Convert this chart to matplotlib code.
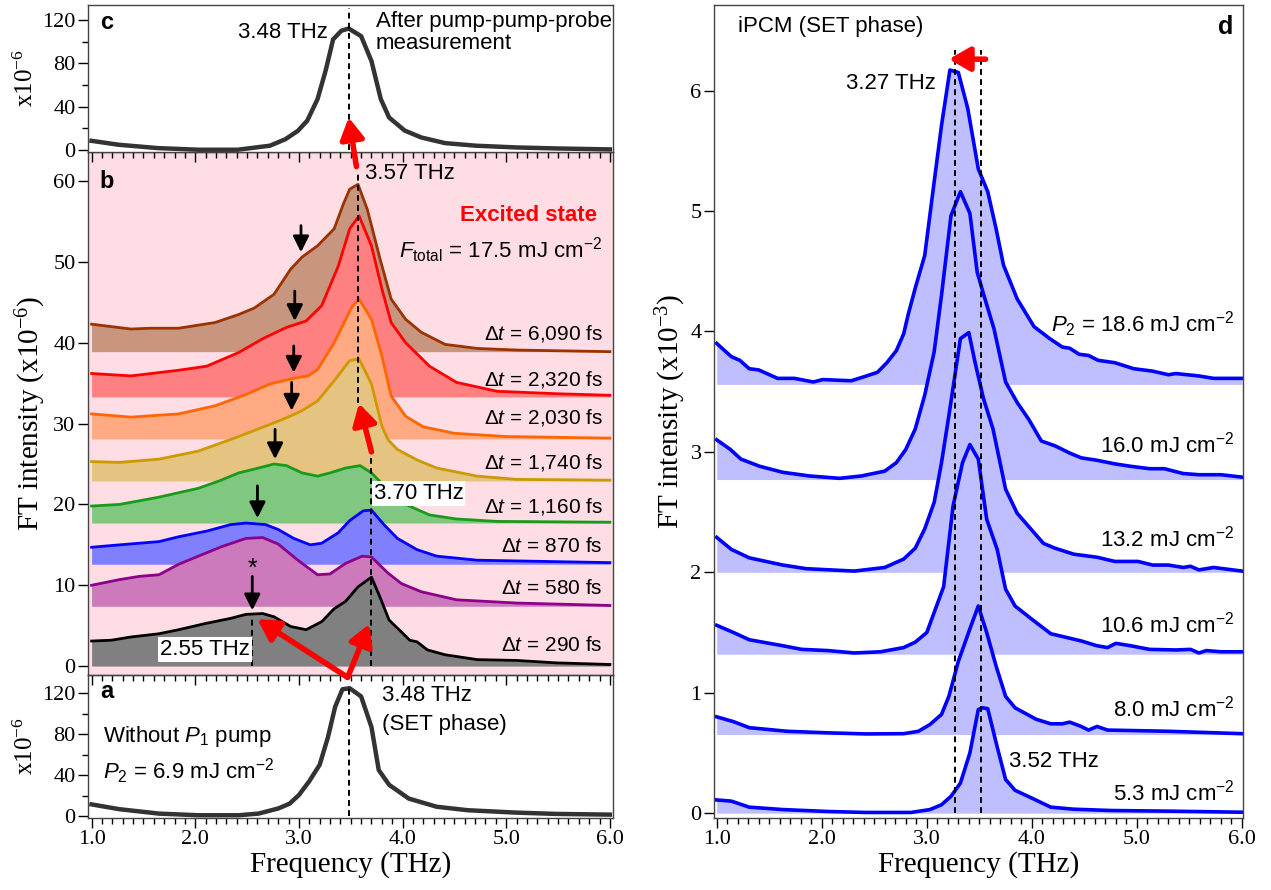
import numpy as np
import matplotlib
matplotlib.use("Agg")
import matplotlib.pyplot as plt
from matplotlib.ticker import MultipleLocator, FormatStrFormatter

SERIF = 'Liberation Serif'
SANS = 'Liberation Sans'
plt.rcParams['font.family'] = [SERIF, 'DejaVu Serif']
plt.rcParams['mathtext.fontset'] = 'custom'
plt.rcParams['mathtext.rm'] = SANS
plt.rcParams['mathtext.it'] = SANS + ':italic'
plt.rcParams['mathtext.bf'] = SANS + ':bold'

# ---- panel c : after pump-pump-probe (x1e-6)
c_freq = [1.0, 1.26, 1.64, 2.03, 2.41, 2.72, 2.87, 2.99, 3.08, 3.18, 3.26, 3.33, 3.41, 3.48,
          3.60, 3.70, 3.79, 3.87, 4.02, 4.18, 4.41, 4.71, 5.1, 5.48, 6.0]
c_amp = [8.5, 4.9, 1.8, 0.3, 0.3, 4.0, 10.0, 17.7, 27.0, 47.0, 74.0, 102.0, 110.0, 112.0,
         105.0, 82.0, 47.0, 30.0, 18.0, 11.6, 6.4, 4.0, 2.4, 1.5, 0.6]

# ---- panel a : without P1 pump (x1e-6)
a_freq = [1.0, 1.27, 1.65, 2.03, 2.42, 2.61, 2.80, 2.91, 3.0, 3.10, 3.20, 3.28, 3.35, 3.42,
          3.49, 3.60, 3.70, 3.77, 3.87, 4.06, 4.33, 4.63, 5.09, 5.48, 6.0]
a_amp = [11.3, 6.6, 2.3, 0.7, 0.7, 2.3, 7.3, 12.0, 20.5, 34.0, 50.0, 77.0, 107.0, 124.0,
         125.0, 117.0, 87.0, 45.0, 30.5, 17.0, 9.0, 5.6, 3.3, 2.0, 1.3]

# ---- panel b : excited state, offset traces (x1e-6)
b6090_f = [1.0, 1.38, 1.57, 1.84, 2.19, 2.42, 2.57, 2.76, 2.92, 3.03, 3.18, 3.34, 3.43, 3.49,
           3.57, 3.66, 3.78, 3.89, 4.03, 4.18, 4.41, 4.72, 5.1, 6.0]
b6090_y = [42.3, 41.7, 41.8, 41.8, 42.5, 43.5, 44.3, 46.0, 49.1, 50.6, 52.0, 54.1, 57.2, 59.0,
           59.6, 56.5, 50.5, 45.4, 42.9, 41.3, 39.8, 39.3, 39.1, 38.9]
b2320_f = [1.0, 1.38, 1.84, 2.11, 2.42, 2.65, 2.88, 3.07, 3.22, 3.38, 3.49, 3.58, 3.70, 3.80,
           3.89, 4.03, 4.26, 4.52, 4.91, 5.48, 6.0]
b2320_y = [36.2, 35.9, 36.6, 37.1, 38.8, 40.5, 41.9, 42.7, 44.6, 49.5, 54.1, 55.7, 52.0, 46.7,
           42.5, 40.0, 37.1, 35.1, 34.0, 33.7, 33.5]
b2030_f = [1.0, 1.38, 1.84, 2.19, 2.49, 2.72, 2.95, 3.09, 3.18, 3.34, 3.51, 3.58, 3.70, 3.80,
           3.89, 4.03, 4.2, 4.5, 5.0, 6.0]
b2030_y = [31.2, 30.8, 31.2, 32.2, 33.6, 34.9, 35.6, 35.9, 36.7, 40.0, 44.4, 45.4, 42.9, 38.4,
           33.4, 30.9, 29.6, 28.8, 28.4, 28.2]
b1740_f = [1.0, 1.27, 1.65, 2.03, 2.42, 2.80, 2.93, 3.03, 3.18, 3.34, 3.49, 3.58, 3.70, 3.80,
           3.86, 3.95, 4.14, 4.33, 4.72, 5.1, 6.0]
b1740_y = [25.3, 25.2, 25.6, 26.6, 28.4, 30.3, 31.0, 31.6, 32.8, 35.3, 37.8, 38.0, 34.9, 29.7,
           28.0, 26.8, 25.5, 24.5, 23.5, 23.1, 23.0]
b1160_f = [1.0, 1.27, 1.65, 2.03, 2.23, 2.42, 2.61, 2.76, 2.88, 3.03, 3.18, 3.30, 3.45, 3.59,
           3.70, 3.80, 3.91, 4.03, 4.26, 4.52, 4.91, 6.0]
b1160_y = [19.8, 20.0, 20.9, 22.0, 22.9, 23.9, 24.5, 25.0, 24.8, 23.9, 23.5, 23.9, 24.5, 24.8,
           23.9, 22.6, 21.2, 20.0, 18.7, 18.2, 17.9, 17.8]
b870_f = [1.0, 1.27, 1.65, 1.84, 2.11, 2.34, 2.49, 2.68, 2.80, 2.95, 3.11, 3.22, 3.38, 3.49,
          3.62, 3.70, 3.82, 3.95, 4.14, 4.33, 4.72, 6.0]
b870_y = [14.7, 15.0, 15.4, 16.0, 16.7, 17.5, 17.7, 17.5, 16.9, 15.8, 15.0, 15.2, 16.5, 18.0,
          19.2, 19.3, 17.5, 15.8, 14.4, 13.6, 13.1, 12.8]
b580_f = [1.0, 1.27, 1.46, 1.65, 1.84, 2.03, 2.26, 2.49, 2.65, 2.80, 2.99, 3.18, 3.30, 3.45,
          3.61, 3.70, 3.86, 3.99, 4.18, 4.52, 5.1, 6.0]
b580_y = [10.0, 10.7, 11.1, 11.3, 12.6, 13.6, 14.8, 15.8, 15.9, 15.1, 13.1, 11.3, 11.4, 12.7,
          13.6, 13.5, 11.5, 10.2, 9.2, 8.2, 7.8, 7.5]
b290_f = [1.0, 1.19, 1.38, 1.65, 1.84, 2.11, 2.34, 2.49, 2.65, 2.76, 2.92, 3.07, 3.22, 3.34,
          3.45, 3.57, 3.70, 3.78, 3.87, 3.95, 4.07, 4.14, 4.24, 4.41, 4.72, 5.1, 5.48, 6.0]
b290_y = [3.1, 3.2, 3.6, 4.0, 4.5, 5.3, 5.9, 6.4, 6.5, 6.1, 4.9, 4.5, 5.5, 7.1,
          8.0, 9.8, 11.0, 8.6, 5.7, 4.7, 3.2, 3.0, 2.0, 1.4, 0.8, 0.7, 0.4, 0.2]
b_baselines = [38.9, 33.3, 28.1, 22.9, 17.7, 12.6, 7.4, 0.0]
b_delays = ['6,090', '2,320', '2,030', '1,740', '1,160', '870', '580', '290']
b_label_y = [41.1, 35.5, 30.7, 25.2, 19.8, 14.8, 9.6, 2.6]
b_line_colors = ['#993300', '#ff0000', '#ff6600', '#cc9900', '#1a9a1a', '#0000ff', '#8c008c', '#000000']
b_fill_colors = ['#c8967f', '#ff8080', '#ffaa82', '#e4c480', '#80c880', '#8080ff', '#cc7abb', '#808080']
# black "shoulder" arrows: x, start y, end y
b_arrow_x = [3.02, 2.96, 2.95, 2.93, 2.77, 2.60, 2.55]
b_arrow_y0 = [54.5, 46.4, 39.6, 35.1, 29.3, 22.3, 11.1]
b_arrow_y1 = [51.2, 42.7, 36.3, 31.6, 25.6, 18.3, 6.9]

# ---- panel d : iPCM SET phase (x1e-3)
d53_f = [1.0, 1.14, 1.31, 1.63, 2.06, 2.42, 2.85, 3.03, 3.14, 3.23, 3.32, 3.41, 3.49, 3.53,
         3.58, 3.67, 3.75, 3.84, 4.0, 4.18, 4.40, 4.76, 5.3, 6.0]
d53_y = [0.11, 0.10, 0.05, 0.03, 0.014, 0.006, 0.006, 0.03, 0.07, 0.14, 0.25, 0.5, 0.86, 0.875,
         0.867, 0.55, 0.28, 0.19, 0.125, 0.05, 0.033, 0.022, 0.017, 0.008]
d80_f = [1.0, 1.16, 1.31, 1.67, 2.06, 2.42, 2.78, 2.92, 3.03, 3.14, 3.21, 3.30, 3.41, 3.49,
         3.57, 3.66, 3.75, 3.84, 4.04, 4.18, 4.29, 4.36, 4.47, 4.54, 4.62, 4.72, 5.3, 6.0]
d80_y = [0.80, 0.76, 0.71, 0.68, 0.667, 0.658, 0.66, 0.68, 0.736, 0.82, 0.97, 1.26, 1.53, 1.72,
         1.5, 1.22, 0.97, 0.875, 0.78, 0.742, 0.742, 0.756, 0.72, 0.69, 0.72, 0.69, 0.68, 0.66]
d106_f = [1.0, 1.16, 1.31, 1.63, 1.81, 2.06, 2.31, 2.56, 2.78, 2.89, 3.0, 3.16, 3.25, 3.34,
          3.41, 3.49, 3.57, 3.67, 3.75, 3.84, 4.0, 4.18, 4.47, 4.62, 4.72, 4.80, 4.94, 5.12,
          5.37, 5.51, 5.59, 5.66, 5.8, 6.0]
d106_y = [1.56, 1.5, 1.44, 1.39, 1.36, 1.35, 1.33, 1.34, 1.375, 1.42, 1.5, 1.88, 2.55, 2.91,
          3.06, 2.94, 2.44, 2.19, 1.86, 1.72, 1.61, 1.49, 1.43, 1.39, 1.375, 1.41, 1.39, 1.36,
          1.355, 1.36, 1.33, 1.35, 1.34, 1.34]
d132_f = [1.0, 1.14, 1.31, 1.63, 1.85, 2.31, 2.60, 2.78, 2.89, 2.98, 3.07, 3.14, 3.21, 3.32,
          3.40, 3.46, 3.54, 3.63, 3.75, 3.86, 3.99, 4.11, 4.22, 4.40, 4.62, 4.79, 5.01, 5.15,
          5.30, 5.44, 5.51, 5.59, 5.73, 6.0]
d132_y = [2.29, 2.19, 2.12, 2.06, 2.03, 2.01, 2.04, 2.11, 2.2, 2.36, 2.58, 2.91, 3.3, 3.94,
          3.99, 3.74, 3.44, 3.19, 2.69, 2.49, 2.36, 2.24, 2.2, 2.15, 2.125, 2.09, 2.09, 2.06,
          2.06, 2.04, 2.05, 2.02, 2.04, 2.01]
d160_f = [1.0, 1.13, 1.23, 1.41, 1.63, 1.88, 2.17, 2.38, 2.60, 2.71, 2.80, 2.89, 2.98, 3.07,
          3.14, 3.23, 3.32, 3.41, 3.48, 3.55, 3.64, 3.75, 3.86, 3.97, 4.09, 4.22, 4.36, 4.47,
          4.62, 4.79, 4.94, 5.12, 5.26, 5.44, 5.59, 5.80, 6.0]
d160_y = [3.1, 3.02, 2.94, 2.88, 2.83, 2.8, 2.78, 2.8, 2.84, 2.91, 3.02, 3.19, 3.47, 3.83,
          4.3, 4.96, 5.16, 4.98, 4.49, 4.28, 4.02, 3.58, 3.41, 3.27, 3.09, 3.05, 2.99, 2.95,
          2.93, 2.9, 2.88, 2.86, 2.86, 2.82, 2.81, 2.81, 2.79]
d186_f = [1.0, 1.14, 1.22, 1.31, 1.40, 1.58, 1.74, 1.92, 2.01, 2.28, 2.39, 2.53, 2.62, 2.71,
          2.78, 2.82, 2.89, 2.98, 3.07, 3.14, 3.22, 3.30, 3.39, 3.49, 3.58, 3.66, 3.73, 3.86,
          4.02, 4.17, 4.29, 4.36, 4.45, 4.54, 4.63, 4.79, 4.97, 5.15, 5.30, 5.37, 5.59, 5.73,
          5.80, 6.0]
d186_y = [3.9, 3.79, 3.76, 3.69, 3.68, 3.61, 3.61, 3.58, 3.6, 3.59, 3.62, 3.66, 3.74, 3.84,
          3.98, 4.13, 4.36, 4.63, 5.24, 5.71, 6.17, 6.15, 5.85, 5.35, 5.16, 4.85, 4.55, 4.27,
          4.04, 3.94, 3.87, 3.86, 3.81, 3.8, 3.76, 3.74, 3.69, 3.67, 3.64, 3.65, 3.63, 3.61,
          3.61, 3.61]
d_baselines = [0.0, 0.653, 1.32, 2.0, 2.77, 3.56]
d_labels = ['5.3', '8.0', '10.6', '13.2', '16.0', '18.6']
d_label_y = [0.17, 0.87, 1.57, 2.28, 3.06, 4.06]


def style_axes(ax, xlabels=False):
    ax.xaxis.set_major_locator(MultipleLocator(1.0))
    ax.xaxis.set_minor_locator(MultipleLocator(0.1))
    ax.xaxis.set_major_formatter(FormatStrFormatter('%.1f'))
    ax.tick_params(which='both', direction='out', width=1.0, top=False, right=False,
                   labelsize=16, labelbottom=xlabels)
    ax.tick_params(which='major', length=7, pad=2)
    ax.tick_params(which='minor', length=4)
    for t in ax.get_xticklabels(which='both') + ax.get_yticklabels(which='both'):
        t.set_fontfamily(SERIF)
    for s in ax.spines.values():
        s.set_linewidth(1.0)
        s.set_color('#444444')


def label(ax, x, y, s, **kw):
    kw.setdefault('fontsize', 16)
    kw.setdefault('va', 'center')
    return ax.text(x, y, s, fontfamily=SANS, **kw)


fig = plt.figure(figsize=(12.71, 8.90), dpi=100)
L, W = 0.0692, 0.4131
ax_b = fig.add_axes([L, 0.2416, W, 0.5876])
ax_c = fig.add_axes([L, 0.8292, W, 0.1652])
ax_a = fig.add_axes([L, 0.0809, W, 0.1607])
ax_d = fig.add_axes([0.5618, 0.0809, 0.4162, 0.9135])
ax_a.patch.set_alpha(0)

dash = (0, (3, 2.2))
red_arrow = dict(arrowstyle='-|>,head_length=0.7,head_width=0.4', color='red', lw=4,
                 shrinkA=0, shrinkB=0, mutation_scale=18)
blk_arrow = dict(arrowstyle='-|>,head_length=0.6,head_width=0.3', color='black', lw=2,
                 shrinkA=0, shrinkB=0, mutation_scale=16)

# ---------------- panel b
ax_b.set_facecolor('#ffdde4')
b_f = [b6090_f, b2320_f, b2030_f, b1740_f, b1160_f, b870_f, b580_f, b290_f]
b_y = [b6090_y, b2320_y, b2030_y, b1740_y, b1160_y, b870_y, b580_y, b290_y]
for f, y, base, lc, fc in zip(b_f, b_y, b_baselines, b_line_colors, b_fill_colors):
    ax_b.fill_between(f, base, y, color=fc, lw=0)
    ax_b.plot(f, y, color=lc, lw=2)
for d, ly in zip(b_delays, b_label_y):
    label(ax_b, 5.93, ly, r'$\Delta t$ = %s fs' % d, ha='right', fontsize=15)
ax_b.vlines(3.57, 32.5, 61, colors='k', linestyles=dash, lw=1.4)
ax_b.vlines(3.70, 0, 26.5, colors='k', linestyles=dash, lw=1.4)
ax_b.vlines(2.55, 0, 5.8, colors='k', linestyles=dash, lw=1.4)
for x, y0, y1 in zip(b_arrow_x, b_arrow_y0, b_arrow_y1):
    ax_b.annotate('', xy=(x, y1), xytext=(x, y0), arrowprops=blk_arrow)
label(ax_b, 2.55, 12.0, '*', ha='center', fontsize=18)
ax_b.annotate('', xy=(3.58, 32.5), xytext=(3.70, 26.5), arrowprops=red_arrow)
label(ax_b, 1.08, 60, 'b', fontsize=17, fontweight='bold')
label(ax_b, 3.64, 61.0, '3.57 THz')
label(ax_b, 5.88, 55.8, 'Excited state', fontweight='bold', color='red', ha='right')
label(ax_b, 5.93, 51.5, r'$F_{\mathrm{total}}$ = 17.5 mJ cm$^{-2}$', ha='right')
label(ax_b, 3.72, 21.3, '3.70 THz', bbox=dict(facecolor='white', edgecolor='none', pad=1.5))
label(ax_b, 2.53, 2.1, '2.55 THz', ha='right',
      bbox=dict(facecolor='white', edgecolor='none', pad=1.5))
ax_b.set_xlim(0.965, 6.03)
ax_b.set_ylim(-1.1, 63.6)
ax_b.yaxis.set_major_locator(MultipleLocator(10))
style_axes(ax_b)
ax_b.set_ylabel(r'FT intensity (x10$\mathregular{^{-6}}$)', fontsize=21, labelpad=4)

# ---------------- panel c
ax_c.plot(c_freq, c_amp, color='#333333', lw=3.2, solid_joinstyle='round')
ax_c.vlines(3.48, 0, 131, colors='k', linestyles=dash, lw=1.4)
label(ax_c, 1.08, 118, 'c', fontsize=17, fontweight='bold')
label(ax_c, 3.28, 108, '3.48 THz', ha='right')
label(ax_c, 3.74, 108, 'After pump-pump-probe\nmeasurement', linespacing=1.05)
ax_c.annotate('', xy=(3.48, 30), xytext=(3.555, 61.8), textcoords=ax_b.transData,
              arrowprops=red_arrow, annotation_clip=False)
ax_c.set_xlim(0.965, 6.03)
ax_c.set_ylim(-1.8, 133.7)
ax_c.yaxis.set_major_locator(MultipleLocator(40))
ax_c.yaxis.set_minor_locator(MultipleLocator(20))
style_axes(ax_c)
ax_c.set_ylabel(r'x10$\mathregular{^{-6}}$', fontsize=18, labelpad=3)

# ---------------- panel a
ax_a.plot(a_freq, a_amp, color='#333333', lw=3.2, solid_joinstyle='round')
ax_a.vlines(3.48, 0, 125, colors='k', linestyles=dash, lw=1.4)
label(ax_a, 1.08, 122, 'a', fontsize=17, fontweight='bold')
label(ax_a, 3.80, 118, '3.48 THz')
label(ax_a, 3.80, 90, '(SET phase)')
label(ax_a, 1.11, 77.6, r'Without $P_1$ pump')
label(ax_a, 1.11, 44, r'$P_2$ = 6.9 mJ cm$^{-2}$')
ax_a.annotate('', xy=(2.6, 5.8), xycoords=ax_b.transData, xytext=(3.47, -1.4),
              textcoords=ax_b.transData, arrowprops=red_arrow, annotation_clip=False)
ax_a.annotate('', xy=(3.68, 5.2), xycoords=ax_b.transData, xytext=(3.47, -1.4),
              textcoords=ax_b.transData, arrowprops=red_arrow, annotation_clip=False)
ax_a.set_xlim(0.965, 6.03)
ax_a.set_ylim(-2, 138)
ax_a.yaxis.set_major_locator(MultipleLocator(40))
ax_a.yaxis.set_minor_locator(MultipleLocator(20))
style_axes(ax_a, xlabels=True)
ax_a.set_ylabel(r'x10$\mathregular{^{-6}}$', fontsize=18, labelpad=3)
ax_a.set_xlabel('Frequency (THz)', fontsize=21, labelpad=1)

# ---------------- panel d
d_f = [d53_f, d80_f, d106_f, d132_f, d160_f, d186_f]
d_y = [d53_y, d80_y, d106_y, d132_y, d160_y, d186_y]
for f, y, base in zip(d_f, d_y, d_baselines):
    ax_d.fill_between(f, base, y, color='#bfbfff', lw=0)
for f, y in zip(d_f, d_y):
    ax_d.plot(f, y, color='#0000ff', lw=2.6)
for lab, ly in zip(d_labels, d_label_y):
    txt = (r'$P_2$ = ' if lab == '18.6' else '') + lab + r' mJ cm$^{-2}$'
    label(ax_d, 5.93, ly, txt, ha='right')
ax_d.vlines([3.27, 3.52], 0, 6.34, colors='k', linestyles=dash, lw=1.4)
ax_d.annotate('', xy=(3.21, 6.26), xytext=(3.56, 6.26), arrowprops=red_arrow)
label(ax_d, 1.2, 6.53, 'iPCM (SET phase)')
label(ax_d, 5.92, 6.53, 'd', fontsize=18, fontweight='bold', ha='right')
label(ax_d, 3.09, 6.06, '3.27 THz', ha='right')
label(ax_d, 3.78, 0.43, '3.52 THz')
ax_d.set_xlim(0.975, 6.01)
ax_d.set_ylim(-0.04, 6.71)
ax_d.yaxis.set_major_locator(MultipleLocator(1))
style_axes(ax_d, xlabels=True)
ax_d.set_ylabel(r'FT intensity (x10$\mathregular{^{-3}}$)', fontsize=21, labelpad=2)
ax_d.set_xlabel('Frequency (THz)', fontsize=21, labelpad=1)

plt.savefig('out.png', dpi=100)
plt.close()
